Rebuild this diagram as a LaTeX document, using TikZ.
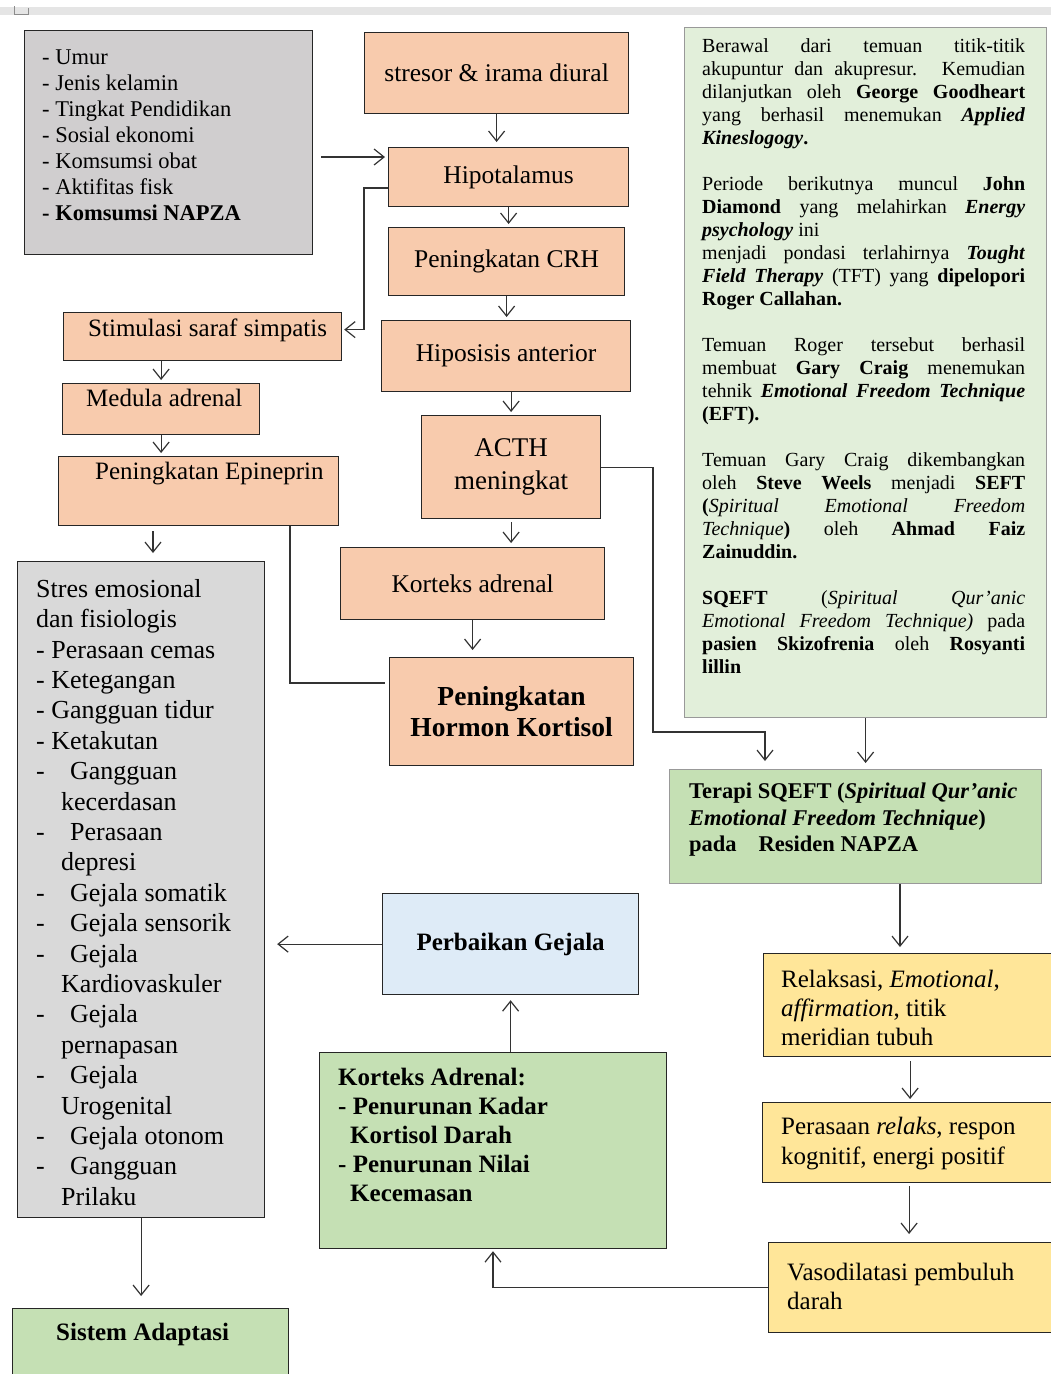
\documentclass[tikz,border=0pt]{standalone}
\usepackage{fontspec}
\setmainfont{Liberation Serif}
\usetikzlibrary{arrows.meta}
\definecolor{cpeach}{HTML}{F8CBAD}
\definecolor{cgrayA}{HTML}{D0CECF}
\definecolor{cgrayB}{HTML}{D9D9D9}
\definecolor{clgreen}{HTML}{E2EFDA}
\definecolor{cgreen}{HTML}{C5E0B4}
\definecolor{cyellow}{HTML}{FFE699}
\definecolor{cblue}{HTML}{DEEBF7}
\newcommand\lidash{\makebox[34pt][l]{-}}
\newcommand\liind{\hspace*{25pt}}

\begin{document}
\begin{tikzpicture}[x=1pt,y=-1pt,
  >={Straight Barb[length=10pt,width=16pt]},
  box/.style={draw=black!85,line width=1.2pt,anchor=north west,inner sep=0pt,align=center},
  peach/.style={box,fill=cpeach,font=\fontsize{25.5}{32}\selectfont},
  txt/.style={anchor=north west,inner sep=0pt,align=left},
  line/.style={anchor=base west,inner sep=0pt,font=\fontsize{25}{30}\selectfont},
  link/.style={draw=black!80,line width=1.2pt}]
  \useasboundingbox (0,0) rectangle (1051,1374);
  % ruler strip on top
  \fill[black!10] (0,7) rectangle (1051,15);
  \draw[black!45,line width=0.8pt] (14,6) -- (14,14) -- (28,14) -- (28,8);

  % left column
  \node[box,fill=cgrayA,minimum width=288pt,minimum height=224pt] (fak) at (24,30) {};
  \node[txt,font=\fontsize{22.5}{26}\selectfont] (fakT) at (42,50)
    {- Umur\\- Jenis kelamin\\- Tingkat Pendidikan\\- Sosial ekonomi\\- Komsumsi obat\\- Aktifitas fisk\\\textbf{- Komsumsi NAPZA}};
  \node[box,fill=cpeach,minimum width=278pt,minimum height=48pt] (stim) at (63,312) {};
  \node[line] (stimT) at (88,336) {Stimulasi saraf simpatis};
  \node[box,fill=cpeach,minimum width=197pt,minimum height=51pt] (med) at (62,383) {};
  \node[line] (medT) at (86,406) {Medula adrenal};
  \node[box,fill=cpeach,minimum width=280pt,minimum height=69pt] (epi) at (58,456) {};
  \node[line] (epiT) at (95,479) {Peningkatan Epineprin};
  \node[box,fill=cgrayB,minimum width=247pt,minimum height=656pt] (sbox) at (17,561) {};
  \node[txt,font=\fontsize{26}{30.4}\selectfont] (sboxT) at (36,579)
    {Stres emosional\\dan fisiologis\\- Perasaan cemas\\- Ketegangan\\- Gangguan tidur\\- Ketakutan\\
     \lidash Gangguan\\\liind kecerdasan\\\lidash Perasaan\\\liind depresi\\\lidash Gejala somatik\\
     \lidash Gejala sensorik\\\lidash Gejala\\\liind Kardiovaskuler\\\lidash Gejala\\\liind pernapasan\\
     \lidash Gejala\\\liind Urogenital\\\lidash Gejala otonom\\\lidash Gangguan\\\liind Prilaku};
  \node[box,fill=cgreen,minimum width=276pt,minimum height=80pt] (adap) at (12,1308) {};
  \node[line,font=\fontsize{25}{30}\selectfont\bfseries] (adapT) at (56,1340) {Sistem Adaptasi};

  % middle column
  \node[peach,minimum width=264pt,minimum height=81pt] (stresor) at (364,32) {stresor \& irama diural};
  \node[peach,minimum width=240pt,minimum height=59pt] (hipo) at (388,147) {Hipotalamus};
  \node[peach,minimum width=236pt,minimum height=68pt] (crh) at (388,227) {Peningkatan CRH};
  \node[peach,minimum width=249pt,minimum height=71pt] (hipos) at (381,320) {Hiposisis anterior};
  \node[peach,minimum width=179pt,minimum height=103pt,font=\fontsize{27}{33}\selectfont] (acth) at (421,415) {ACTH\\meningkat};
  \node[peach,minimum width=264pt,minimum height=72pt] (kor) at (340,547) {Korteks adrenal};
  \node[peach,minimum width=244pt,minimum height=108pt,font=\fontsize{27.5}{31}\selectfont\bfseries] (kort) at (389,657) {Peningkatan\\Hormon Kortisol};
  \node[box,fill=cblue,minimum width=256pt,minimum height=101pt,font=\fontsize{25}{30}\selectfont\bfseries] (perb) at (382,893) {Perbaikan Gejala};
  \node[box,fill=cgreen,minimum width=347pt,minimum height=196pt] (kadr) at (319,1052) {};
  \node[txt,font=\fontsize{25}{29}\selectfont\bfseries] (kadrT) at (338,1068)
    {Korteks Adrenal:\\- Penurunan Kadar\\\hspace*{12pt}Kortisol Darah\\- Penurunan Nilai\\\hspace*{12pt}Kecemasan};

  % right column
  \node[box,draw=black!40,fill=clgreen,minimum width=362pt,minimum height=690pt] (hist) at (684,27) {};
  \node[txt,text width=323pt,align=justify,font=\fontsize{20}{23}\selectfont] (histT) at (702,38)
    {Berawal dari temuan titik-titik\linebreak
     akupuntur dan akupresur. Kemudian\linebreak
     dilanjutkan oleh \textbf{George Goodheart}\linebreak
     yang berhasil menemukan \textbf{\textit{Applied}}\linebreak
     \textbf{\textit{Kineslogogy}.}\par\vspace{23pt}
     Periode berikutnya muncul \textbf{John}\linebreak
     \textbf{Diamond} yang melahirkan \textbf{\textit{Energy}}\linebreak
     \textbf{\textit{psychology}} ini\newline
     menjadi pondasi terlahirnya \textbf{\textit{Tought}}\linebreak
     \textbf{\textit{Field Therapy}} (TFT) yang \textbf{dipelopori}\linebreak
     \textbf{Roger Callahan.}\par\vspace{23pt}
     Temuan Roger tersebut berhasil\linebreak
     membuat \textbf{Gary Craig} menemukan\linebreak
     tehnik \textbf{\textit{Emotional Freedom Technique}}\linebreak
     \textbf{(EFT).}\par\vspace{23pt}
     Temuan Gary Craig dikembangkan\linebreak
     oleh \textbf{Steve Weels} menjadi \textbf{SEFT}\linebreak
     \textbf{(}\textit{Spiritual Emotional Freedom}\linebreak
     \textit{Technique}\textbf{)} oleh \textbf{Ahmad Faiz}\linebreak
     \textbf{Zainuddin.}\par\vspace{23pt}
     \textbf{SQEFT} (\textit{Spiritual Qur’anic}\linebreak
     \textit{Emotional Freedom Technique)} pada\linebreak
     \textbf{pasien Skizofrenia} oleh \textbf{Rosyanti}\linebreak
     \textbf{lillin}};
  \node[box,draw=black!40,fill=cgreen,minimum width=372pt,minimum height=114pt] (ter) at (669,769) {};
  \node[txt,font=\fontsize{22.5}{26.5}\selectfont\bfseries] (terT) at (689,783)
    {Terapi SQEFT (\textit{Spiritual Qur’anic}\\\textit{Emotional Freedom Technique})\\pada\hspace{22pt}Residen NAPZA};
  \node[box,fill=cyellow,minimum width=293pt,minimum height=103pt] (rel) at (763,953) {};
  \node[txt,font=\fontsize{25}{29}\selectfont] (relT) at (781,970)
    {Relaksasi, \textit{Emotional},\\\textit{affirmation}, titik\\meridian tubuh};
  \node[box,fill=cyellow,minimum width=293pt,minimum height=80pt] (per) at (762,1102) {};
  \node[txt,font=\fontsize{25}{30}\selectfont] (perT) at (781,1117)
    {Perasaan \textit{relaks}, respon\\kognitif, energi positif};
  \node[box,fill=cyellow,minimum width=288pt,minimum height=90pt] (vaso) at (768,1242) {};
  \node[txt,font=\fontsize{25}{29}\selectfont] (vasoT) at (787,1263)
    {Vasodilatasi pembuluh\\darah};

  % helper points
  \coordinate (hipoin) at ([yshift=-10pt]hipo.north west);
  \coordinate (hipoout) at ([yshift=-41pt]hipo.north west);
  \coordinate (stimin) at ([yshift=7pt]stim.east);
  \coordinate (epiout) at ([xshift=95pt]epi.south west);
  \coordinate (epiline) at ([xshift=232pt]epi.south west);
  \coordinate (kortin) at ([yshift=-26pt]kort.north west);
  \coordinate (bend) at (653,732);
  \coordinate (terin) at ([xshift=96pt]ter.north west);
  \coordinate (terout) at ([xshift=231pt]ter.south west);
  \coordinate (kadrin) at ([xshift=174pt]kadr.south west);

  % connectors
  \draw[link,->,shorten >=5pt] (stresor.south) -- (stresor.south |- hipo.north);
  \draw[link,->,shorten <=8pt,shorten >=3pt] (fak.east |- hipoin) -- (hipoin);
  \draw[link,->,shorten >=2pt] (hipoout) -- ++(-24,0) |- (stimin);
  \draw[link,->,shorten >=3pt] (hipo.south) -- (hipo.south |- crh.north);
  \draw[link,->,shorten >=3pt] (crh.south) -- (crh.south |- hipos.north);
  \draw[link,->,shorten >=3pt] (hipos.south -| acth.north) -- (acth.north);
  \draw[link,->,shorten <=3pt,shorten >=4pt] (acth.south) -- (acth.south |- kor.north);
  \draw[link,->,shorten >=7pt] (kor.south) -- (kor.south |- kort.north);
  \draw[link,->,shorten >=3pt] (med.north |- stim.south) -- (med.north);
  \draw[link,->,shorten >=3pt] (med.south) -- (med.south |- epi.north);
  \draw[link,->,shorten <=5pt,shorten >=8pt] (epiout) -- (epiout |- sbox.north);
  \draw[link,shorten >=4pt] (epiline) |- (kortin);
  \draw[link,->,shorten >=8pt] (acth.east) -| (bend) -| (terin);
  \draw[link,->,shorten >=6pt] (hist.south) -- (hist.south |- ter.north);
  \draw[link,->,shorten >=6pt] (terout) -- (terout |- rel.north);
  \draw[link,->,shorten <=4pt,shorten >=3pt] (rel.south) -- (rel.south |- per.north);
  \draw[link,->,shorten <=3pt,shorten >=8pt] (per.south) -- (per.south |- vaso.north);
  \draw[link,->,shorten >=2pt] (vaso.west) -| (kadrin);
  \draw[link,->,shorten >=5pt] (kadr.north -| perb.south) -- (perb.south);
  \draw[link,->,shorten >=12pt] (perb.west) -- (perb.west -| sbox.east);
  \draw[link,->,shorten >=12pt] (sbox.south) -- (sbox.south |- adap.north);
\end{tikzpicture}
\end{document}
